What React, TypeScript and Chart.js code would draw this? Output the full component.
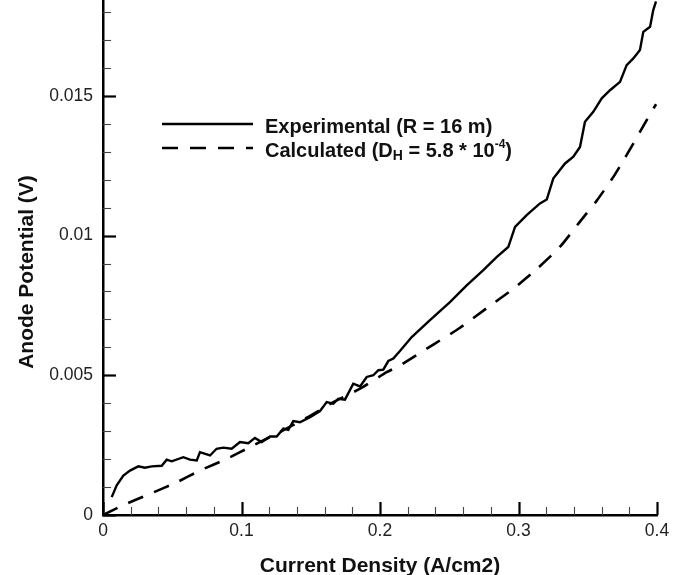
import React, { useEffect, useRef } from "react";
import { Chart, registerables } from "chart.js";

Chart.register(...registerables);

// Experimental polarisation data (current density A/cm2, anode potential V)
const expCurrent = [
  0.0063, 0.0099, 0.0147, 0.0195, 0.0255, 0.0303, 0.0352, 0.0424, 0.046, 0.0496,
  0.058, 0.0628, 0.0677, 0.07, 0.0773, 0.082, 0.0868, 0.0929, 0.0989, 0.1049,
  0.1097, 0.1146, 0.1206, 0.1254, 0.1302, 0.1338, 0.1374, 0.1422, 0.1495, 0.1567,
  0.1615, 0.1663, 0.1699, 0.1747, 0.1807, 0.1856, 0.1904, 0.1952, 0.1988, 0.2024,
  0.206, 0.2096, 0.2144, 0.2229, 0.2361, 0.2505, 0.2626, 0.2746, 0.2842, 0.2926,
  0.2975, 0.3059, 0.3155, 0.3204, 0.3251, 0.3336, 0.3396, 0.3444, 0.348, 0.354,
  0.3601, 0.3661, 0.3733, 0.3781, 0.3829, 0.3877, 0.3901, 0.395, 0.3973, 0.3993,
];
const expPotential = [
  0.00064, 0.00106, 0.00141, 0.00159, 0.00174, 0.00169, 0.00174, 0.00176, 0.00198, 0.00192,
  0.00207, 0.00198, 0.00195, 0.00225, 0.00213, 0.00237, 0.00241, 0.00237, 0.00261, 0.00257,
  0.00276, 0.00261, 0.00281, 0.00281, 0.00309, 0.00305, 0.00336, 0.00332, 0.0035, 0.00372,
  0.00404, 0.00398, 0.00416, 0.00413, 0.0047, 0.0046, 0.00494, 0.005, 0.00518, 0.0052,
  0.00551, 0.0056, 0.00587, 0.00637, 0.00697, 0.00762, 0.00822, 0.00876, 0.00923, 0.00959,
  0.01031, 0.01073, 0.01115, 0.01129, 0.01204, 0.01258, 0.01282, 0.01317, 0.01407, 0.01443,
  0.01491, 0.0152, 0.0155, 0.0161, 0.01634, 0.01664, 0.01729, 0.01747, 0.01807, 0.01838,
];

// Model prediction
const calcCurrent = [
  0, 0.0159, 0.034, 0.0532, 0.07, 0.0893, 0.1085, 0.1278, 0.1471, 0.1663,
  0.1856, 0.2048, 0.2144, 0.2385, 0.2578, 0.277, 0.2963, 0.3131, 0.33, 0.3444,
  0.3565, 0.3685, 0.373, 0.383, 0.391, 0.3993,
];
const calcPotential = [
  0, 0.00038, 0.00076, 0.00117, 0.00159, 0.00201, 0.00249, 0.00297, 0.00348, 0.00404,
  0.00452, 0.00511, 0.00535, 0.0061, 0.0067, 0.0074, 0.0081, 0.0088, 0.0096, 0.0105,
  0.01125, 0.0121, 0.01246, 0.0133, 0.014, 0.0147,
];

const xTickValues = [0, 0.1, 0.2, 0.3, 0.4];
const xTickLabels = ["0", "0.1", "0.2", "0.3", "0.4"];
const yTickValues = [0, 0.005, 0.01, 0.015];
const yTickLabels = ["0", "0.005", "0.01", "0.015"];
const xMinorCount = 20; // 0.02 steps
const yMinorCount = 18; // 0.001 steps

const xTitle = "Current Density (A/cm2)";
const yTitle = "Anode Potential (V)";

type Seg = { text: string; kind?: "sub" | "sup" };
const legendEntries: Seg[][] = [
  [{ text: "Experimental (R = 16 m)" }],
  [
    { text: "Calculated (D" },
    { text: "H", kind: "sub" },
    { text: " = 5.8 * 10" },
    { text: "-4", kind: "sup" },
    { text: ")" },
  ],
];

const FONT = "'Liberation Sans', Arial, Helvetica, sans-serif";

const inwardTicks = {
  id: "inwardTicks",
  afterDraw(chart: any) {
    const { ctx, chartArea, scales } = chart;
    const xs = scales.x;
    const ys = scales.y;
    ctx.save();
    ctx.strokeStyle = "#000";
    for (let i = 0; i <= xMinorCount; i++) {
      const v = (i * 0.4) / xMinorCount;
      const major = i % 5 === 0;
      const px = Math.round(xs.getPixelForValue(v)) + 0.5;
      ctx.lineWidth = major ? 2.2 : 1.1;
      ctx.strokeStyle = major ? "#000" : "#444";
      ctx.beginPath();
      ctx.moveTo(px, chartArea.bottom);
      ctx.lineTo(px, chartArea.bottom - (major ? 13 : 8));
      ctx.stroke();
    }
    for (let i = 0; i <= yMinorCount; i++) {
      const v = i * 0.001;
      const major = i % 5 === 0;
      const py = Math.round(ys.getPixelForValue(v)) + 0.5;
      ctx.lineWidth = major ? 2.2 : 1.1;
      ctx.strokeStyle = major ? "#000" : "#444";
      ctx.beginPath();
      ctx.moveTo(chartArea.left, py);
      ctx.lineTo(chartArea.left + (major ? 13 : 8), py);
      ctx.stroke();
    }
    ctx.restore();
  },
};

const axisTitles = {
  id: "axisTitles",
  afterDraw(chart: any) {
    const { ctx, chartArea } = chart;
    ctx.save();
    ctx.fillStyle = "#111";
    ctx.font = `bold 21px ${FONT}`;
    ctx.textAlign = "center";
    ctx.textBaseline = "alphabetic";
    ctx.fillText(xTitle, (chartArea.left + chartArea.right) / 2, 572);
    ctx.translate(33, 272);
    ctx.rotate(-Math.PI / 2);
    ctx.fillText(yTitle, 0, 0);
    ctx.restore();
  },
};

const customLegend = {
  id: "customLegend",
  afterDraw(chart: any) {
    const { ctx } = chart;
    const lineX0 = 162;
    const lineX1 = 253;
    const textX = 265;
    const rows = [
      { lineY: 124, baseline: 133 },
      { lineY: 148, baseline: 157 },
    ];
    ctx.save();
    legendEntries.forEach((segs, i) => {
      const ds = chart.data.datasets[i];
      const r = rows[i];
      ctx.strokeStyle = ds.borderColor;
      ctx.lineWidth = ds.borderWidth;
      ctx.setLineDash(ds.borderDash || []);
      ctx.beginPath();
      ctx.moveTo(lineX0, r.lineY);
      ctx.lineTo(lineX1, r.lineY);
      ctx.stroke();
      ctx.setLineDash([]);
      let x = textX;
      ctx.fillStyle = "#111";
      ctx.textAlign = "left";
      ctx.textBaseline = "alphabetic";
      segs.forEach((s) => {
        let size = 20;
        let dy = 0;
        if (s.kind === "sub") {
          size = 14;
          dy = 3;
        } else if (s.kind === "sup") {
          size = 12;
          dy = -9;
        }
        ctx.font = `bold ${size}px ${FONT}`;
        ctx.fillText(s.text, x, r.baseline + dy);
        x += ctx.measureText(s.text).width;
      });
    });
    ctx.restore();
  },
};

export default function App() {
  const canvasRef = useRef<HTMLCanvasElement | null>(null);

  useEffect(() => {
    const canvas = canvasRef.current;
    if (!canvas) return;
    const chart = new Chart(canvas, {
      type: "scatter",
      data: {
        datasets: [
          {
            label: "Experimental (R = 16 m)",
            data: expCurrent.map((x, i) => ({ x, y: expPotential[i] })),
            showLine: true,
            borderColor: "#000",
            backgroundColor: "#000",
            borderWidth: 2.4,
            pointRadius: 0,
            tension: 0,
            fill: false,
          },
          {
            label: "Calculated",
            data: calcCurrent.map((x, i) => ({ x, y: calcPotential[i] })),
            showLine: true,
            borderColor: "#000",
            backgroundColor: "#000",
            borderWidth: 2.6,
            borderDash: [16, 12],
            pointRadius: 0,
            tension: 0.2,
            fill: false,
          },
        ],
      },
      options: {
        responsive: false,
        maintainAspectRatio: false,
        animation: false,
        layout: { padding: { left: 0, right: 30, top: 0, bottom: 0 } },
        plugins: {
          legend: { display: false },
          tooltip: { enabled: false },
          title: { display: false },
        },
        scales: {
          x: {
            type: "linear",
            min: 0,
            max: 0.4,
            grid: { display: false, drawTicks: false },
            border: { display: true, color: "#000", width: 2.5 },
            afterBuildTicks: (s: any) => {
              s.ticks = xTickValues.map((value) => ({ value }));
            },
            afterFit: (s: any) => {
              s.height = 60;
              s.paddingLeft = 0;
              s.paddingRight = 0;
            },
            ticks: {
              autoSkip: false,
              maxRotation: 0,
              padding: 6,
              color: "#222",
              font: { family: FONT, size: 17.5 },
              callback: (_v: any, i: number) => xTickLabels[i],
            },
          },
          y: {
            type: "linear",
            min: 0,
            max: 0.01843,
            grid: { display: false, drawTicks: false },
            border: { display: true, color: "#000", width: 2.5 },
            afterBuildTicks: (s: any) => {
              s.ticks = yTickValues.map((value) => ({ value }));
            },
            afterFit: (s: any) => {
              s.width = 103;
              s.paddingTop = 0;
              s.paddingBottom = 0;
            },
            ticks: {
              autoSkip: false,
              padding: 10,
              color: "#222",
              font: { family: FONT, size: 17.5 },
              callback: (_v: any, i: number) => yTickLabels[i],
            },
          },
        },
      },
      plugins: [inwardTicks, axisTitles, customLegend],
    } as any);
    return () => chart.destroy();
  }, []);

  return (
    <div
      style={{
        position: "fixed",
        left: 0,
        top: 0,
        width: 687,
        height: 575,
        background: "#fff",
      }}
    >
      <canvas ref={canvasRef} width={687} height={575} style={{ display: "block" }} />
    </div>
  );
}
